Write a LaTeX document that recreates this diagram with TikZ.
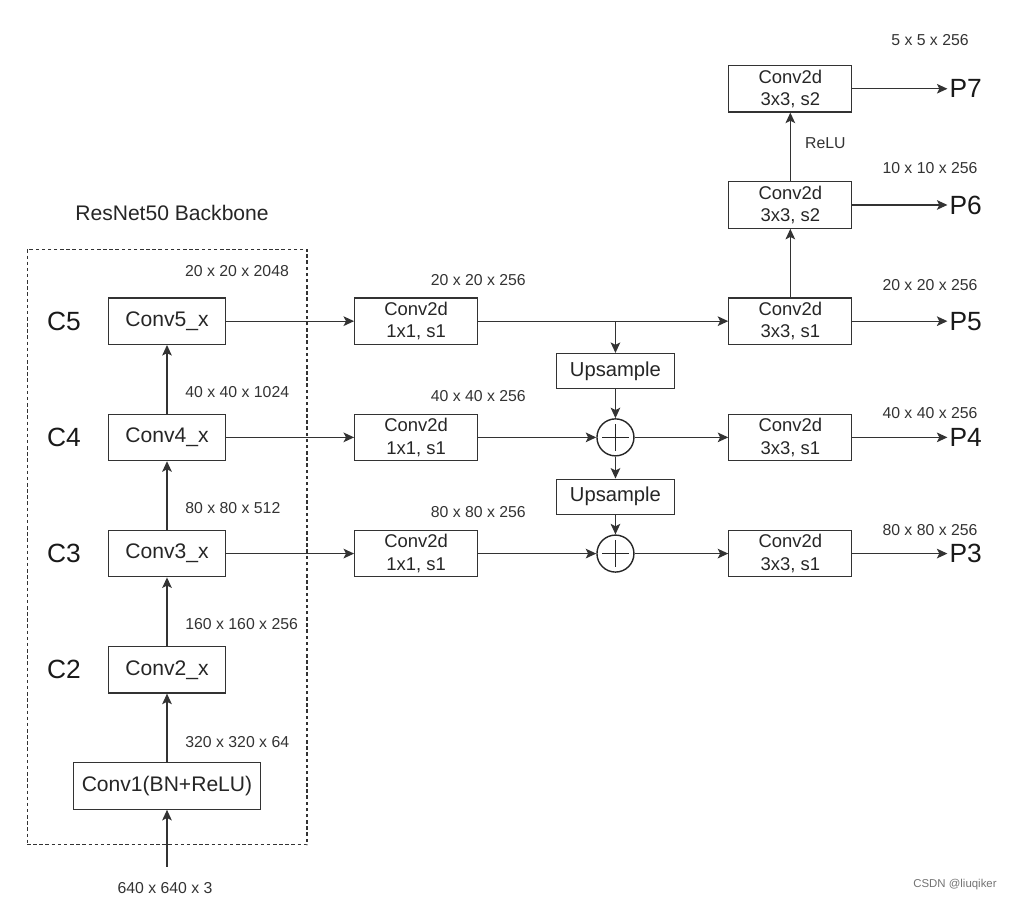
\documentclass[tikz,border=0pt]{standalone}
\usepackage{fontspec}
\setmainfont{Liberation Sans}
\usetikzlibrary{positioning,arrows.meta}

\begin{document}
\begin{tikzpicture}[
		x=0.02cm, y=-0.02cm,  % one unit = one pixel of the sketch
		node distance=1.37cm,
		box/.style={rectangle, draw=black!80, line width=0.7pt, minimum width=2.34cm, minimum height=0.93cm, text centered, text=black!85, font=\fontsize{12}{14}\selectfont},
		convbox/.style={box, minimum width=2.46cm, inner ysep=1pt, align=center, font=\fontsize{10.5}{12.7}\selectfont},
		upbox/.style={box, minimum width=2.36cm, minimum height=0.7cm, font=\fontsize{11.5}{13}\selectfont},
		addnode/.style={circle, draw=black!85, line width=0.8pt, minimum size=0.74cm, inner sep=0pt,
			path picture={\draw[line width=0.8pt] ([yshift=-3pt]path picture bounding box.north) -- ([yshift=3pt]path picture bounding box.south)
				([xshift=3pt]path picture bounding box.west) -- ([xshift=-3pt]path picture bounding box.east);}},
		dimlabel/.style={inner sep=1pt, text=black!80, font=\fontsize{9}{10}\selectfont},
		level/.style={inner sep=1pt, text=black!90, font=\fontsize{15}{17}\selectfont},
		arrow/.style={-{Stealth[length=6pt, width=5.5pt, inset=1.4pt]}, draw=black!80, line width=0.7pt}
		]
		\useasboundingbox (0,0) rectangle (1015,901);
		% backbone - bottom to top
		\node[box, minimum width=3.74cm] (conv1) at (167,786) {Conv1(BN+ReLU)};
		\node[box, above=of conv1] (conv2x) {Conv2\_x};
		\node[box, above=of conv2x] (conv3x) {Conv3\_x};
		\node[box, above=of conv3x] (conv4x) {Conv4\_x};
		\node[box, above=of conv4x] (conv5x) {Conv5\_x};
		\node[level, left=0.5cm of conv2x] (c2) {C2};
		\node[level, left=0.5cm of conv3x] (c3) {C3};
		\node[level, left=0.5cm of conv4x] (c4) {C4};
		\node[level, left=0.5cm of conv5x] (c5) {C5};
		\node[draw=black!80, dashed, dash pattern=on 2pt off 1.5pt, line width=0.6pt, minimum width=5.6cm, minimum height=11.92cm] (backbone) at (167,547) {};
		\node[inner sep=1pt, text=black!85, font=\fontsize{12}{14}\selectfont] (title) at (172,213) {ResNet50 Backbone};
		\coordinate (in) at (167,867);
		\node[dimlabel] (inlabel) at (165,888) {640 x 640 x 3};
		\node[dimlabel] (dim5) at (237,271) {20 x 20 x 2048};
		% lateral 1x1 convs
		\node[convbox, right=2.56cm of conv5x] (lat5) {Conv2d\\1x1, s1};
		\node[convbox, right=2.56cm of conv4x] (lat4) {Conv2d\\1x1, s1};
		\node[convbox, right=2.56cm of conv3x] (lat3) {Conv2d\\1x1, s1};
		\node[dimlabel, above=0.2cm of lat5.north east] (lat5dim) {20 x 20 x 256};
		\node[dimlabel, above=0.2cm of lat4.north east] (lat4dim) {40 x 40 x 256};
		\node[dimlabel, above=0.2cm of lat3.north east] (lat3dim) {80 x 80 x 256};
		% top-down path
		\node[addnode, right=2.36cm of lat4] (add4) {};
		\node[addnode] (add3) at (lat3 -| add4) {};
		\node[upbox, above=0.58cm of add4] (up1) {Upsample};
		\node[upbox, below=0.44cm of add4] (up2) {Upsample};
		% output 3x3 convs
		\node[convbox, right=5cm of lat5] (out5) {Conv2d\\3x3, s1};
		\node[convbox] (out4) at (lat4 -| out5) {Conv2d\\3x3, s1};
		\node[convbox] (out3) at (lat3 -| out5) {Conv2d\\3x3, s1};
		\node[convbox, above=of out5] (out6) {Conv2d\\3x3, s2};
		\node[convbox, above=of out6] (out7) {Conv2d\\3x3, s2};
		% pyramid levels
		\node[level, right=1.9cm of out7] (p7) {P7};
		\node[level, right=1.9cm of out6] (p6) {P6};
		\node[level, right=1.9cm of out5] (p5) {P5};
		\node[level, right=1.9cm of out4] (p4) {P4};
		\node[level, right=1.9cm of out3] (p3) {P3};
		\node[dimlabel] (p7dim) at (930,40) {5 x 5 x 256};
		\node[dimlabel] (p6dim) at (930,168) {10 x 10 x 256};
		\node[dimlabel] (p5dim) at (930,285) {20 x 20 x 256};
		\node[dimlabel] (p4dim) at (930,413) {40 x 40 x 256};
		\node[dimlabel] (p3dim) at (930,530) {80 x 80 x 256};
		% backbone arrows
		\draw[arrow] (in) -- (conv1);
		\draw[arrow] (conv1) -- (conv2x) node[dimlabel, pos=0.3, right=0.32cm] {320 x 320 x 64};
		\draw[arrow] (conv2x) -- (conv3x) node[dimlabel, pos=0.32, right=0.32cm] {160 x 160 x 256};
		\draw[arrow] (conv3x) -- (conv4x) node[dimlabel, pos=0.32, right=0.32cm] {80 x 80 x 512};
		\draw[arrow] (conv4x) -- (conv5x) node[dimlabel, pos=0.32, right=0.32cm] {40 x 40 x 1024};
		\draw[arrow] (conv5x) -- (lat5);
		\draw[arrow] (conv4x) -- (lat4);
		\draw[arrow] (conv3x) -- (lat3);
		% top-down arrows
		\draw[arrow] (lat5) -- (out5);
		\draw[arrow] (lat5.east -| up1.north) -- (up1);
		\draw[arrow] (up1) -- (add4);
		\draw[arrow] (lat4) -- (add4);
		\draw[arrow] (add4) -- (up2);
		\draw[arrow] (up2) -- (add3);
		\draw[arrow] (lat3) -- (add3);
		\draw[arrow] (add4) -- (out4);
		\draw[arrow] (add3) -- (out3);
		% extra levels
		\draw[arrow] (out5) -- (out6);
		\draw[arrow] (out6) -- (out7) node[dimlabel, pos=0.55, right=0.25cm] {ReLU};
		\draw[arrow] (out7) -- (p7);
		\draw[arrow] (out6) -- (p6);
		\draw[arrow] (out5) -- (p5);
		\draw[arrow] (out4) -- (p4);
		\draw[arrow] (out3) -- (p3);
		\node[text=black!55, font=\fontsize{6.5}{8}\selectfont] (mark) at (955,885) {CSDN @liuqiker};
	\end{tikzpicture}
\end{document}
